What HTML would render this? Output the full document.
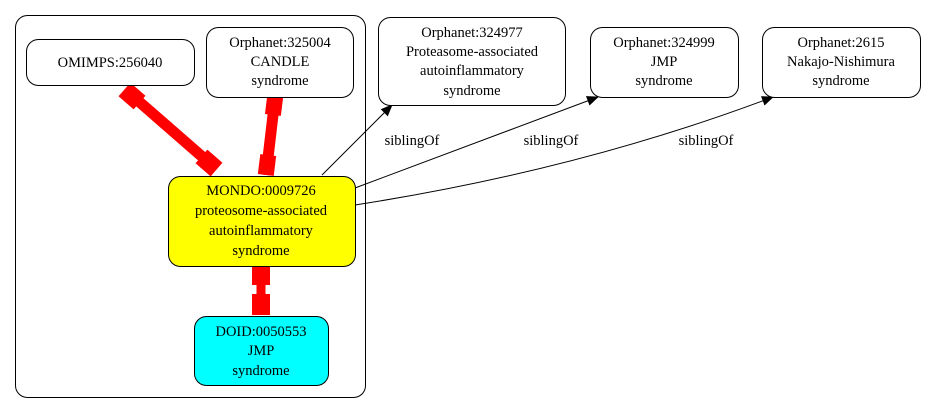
<!DOCTYPE html>
<html><head><style>body{margin:0;background:#fff}svg{display:block}svg text{font-family:'Times New Roman','Liberation Serif','Nimbus Roman','DejaVu Serif',serif;font-size:14.5px;text-anchor:middle}</style></head><body>
<svg width="925" height="413" viewBox="0 0 925 413">
<defs><marker id="a" markerWidth="12" markerHeight="10" refX="11" refY="5" orient="auto" markerUnits="userSpaceOnUse"><path d="M0,0L12,5L0,10z" fill="#000"/></marker></defs>
<rect x="15.5" y="15.5" width="350" height="382" rx="12" fill="none" stroke="#000"/>
<g stroke="red" fill="red">
<line x1="128" y1="92" x2="214" y2="167" stroke-width="11"/>
<rect x="-10" y="-9" width="20" height="18" transform="translate(132,96) rotate(41)" stroke="none"/>
<rect x="-10" y="-9" width="20" height="18" transform="translate(209,163) rotate(41)" stroke="none"/>
<line x1="275" y1="98" x2="266" y2="175" stroke-width="11"/>
<rect x="-8" y="-9" width="16" height="18" transform="translate(274,106) rotate(7)" stroke="none"/>
<rect x="-8" y="-10" width="16" height="20" transform="translate(267,165) rotate(7)" stroke="none"/>
<line x1="261" y1="267" x2="261" y2="315" stroke-width="9"/>
<rect x="252" y="267" width="18" height="18" stroke="none"/>
<rect x="252" y="294" width="18" height="21" stroke="none"/>
</g>
<g stroke="#000" fill="none">
<line x1="322" y1="175" x2="392" y2="105" marker-end="url(#a)"/>
<line x1="355" y1="188" x2="598" y2="97" marker-end="url(#a)"/>
<path d="M355,205 Q580,170 773,97" marker-end="url(#a)"/>
</g>
<text x="412" y="145">siblingOf</text>
<text x="551" y="145">siblingOf</text>
<text x="706" y="145">siblingOf</text>
<g stroke="#000">
<rect x="26.5" y="39.5" width="168" height="46" rx="12" fill="#fff"/>
<rect x="206.5" y="27.5" width="147" height="70" rx="12" fill="#fff"/>
<rect x="378.5" y="17.5" width="187" height="88" rx="12" fill="#fff"/>
<rect x="590.5" y="27.5" width="148" height="70" rx="12" fill="#fff"/>
<rect x="762.5" y="27.5" width="158" height="70" rx="12" fill="#fff"/>
<rect x="168.5" y="176.5" width="187" height="90" rx="12" fill="#ff0"/>
<rect x="194.5" y="316.5" width="134" height="69" rx="12" fill="#0ff"/>
</g>
<text x="110" y="67">OMIMPS:256040</text>
<text x="280" y="47">Orphanet:325004</text><text x="280" y="66">CANDLE</text><text x="280" y="85">syndrome</text>
<text x="472" y="37">Orphanet:324977</text><text x="472" y="56">Proteasome-associated</text><text x="472" y="75">autoinflammatory</text><text x="472" y="95">syndrome</text>
<text x="664" y="47">Orphanet:324999</text><text x="664" y="66">JMP</text><text x="664" y="85">syndrome</text>
<text x="841" y="47">Orphanet:2615</text><text x="841" y="66">Nakajo-Nishimura</text><text x="841" y="85">syndrome</text>
<text x="261" y="195">MONDO:0009726</text><text x="261" y="215">proteosome-associated</text><text x="261" y="235">autoinflammatory</text><text x="261" y="255">syndrome</text>
<text x="261" y="336">DOID:0050553</text><text x="261" y="355">JMP</text><text x="261" y="375">syndrome</text>
</svg>
</body></html>
